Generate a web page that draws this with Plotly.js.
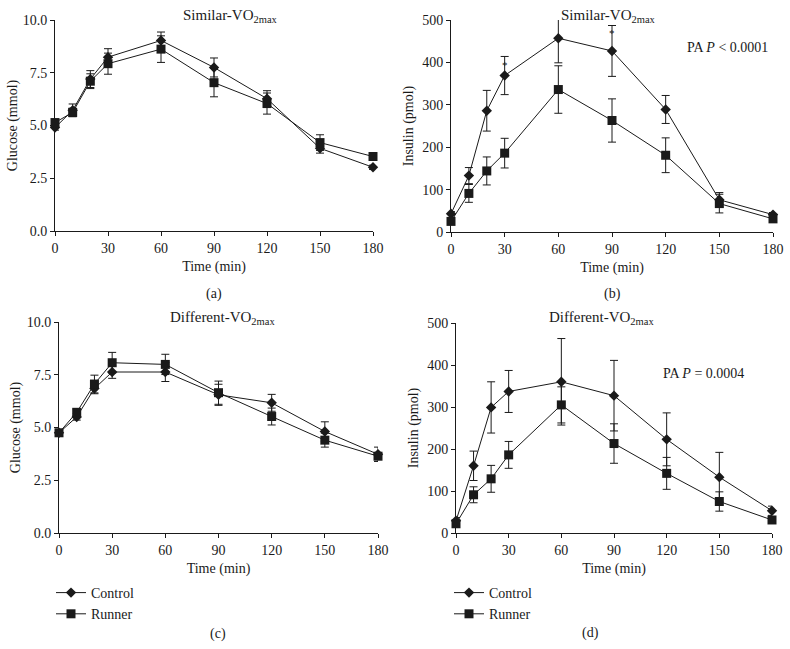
<!DOCTYPE html>
<html>
<head>
<meta charset="utf-8">
<script src="https://cdn.plot.ly/plotly-3.0.1.min.js"></script>
<style>html,body{margin:0;padding:0;background:#fff;}#chart{width:790px;height:649px;}</style>
</head>
<body>
<div id="chart"></div>
<script>
// ---- Data ----
const timeMin = [0, 10, 20, 30, 60, 90, 120, 150, 180];

// (a) Glucose, Similar-VO2max
const glucSimControl    = [4.9, 5.72, 7.2, 8.24, 9.03, 7.75, 6.27, 3.92, 3.02];
const glucSimControlErr = [0.12, 0.3, 0.4, 0.4, 0.4, 0.45, 0.38, 0.23, 0.1];
const glucSimRunner     = [5.14, 5.62, 7.1, 7.93, 8.62, 7.03, 6.04, 4.19, 3.53];
const glucSimRunnerErr  = [0.1, 0.2, 0.35, 0.5, 0.63, 0.67, 0.5, 0.37, 0.08];

// (b) Insulin, Similar-VO2max
const insSimControl    = [43, 133, 286, 369, 457, 427, 289, 76, 41];
const insSimControlErr = [5, 19, 48, 45, 58, 60, 33, 17, 5];
const insSimRunner     = [25, 91, 144, 186, 336, 263, 181, 67, 31];
const insSimRunnerErr  = [5, 21, 33, 35, 56, 51, 41, 22, 5];

// (c) Glucose, Different-VO2max
const glucDiffControl    = [4.75, 5.5, 6.85, 7.63, 7.63, 6.55, 6.17, 4.81, 3.73];
const glucDiffControlErr = [0.1, 0.15, 0.25, 0.3, 0.45, 0.5, 0.4, 0.46, 0.34];
const glucDiffRunner     = [4.75, 5.72, 7.06, 8.07, 7.99, 6.65, 5.52, 4.4, 3.64];
const glucDiffRunnerErr  = [0.1, 0.15, 0.42, 0.49, 0.48, 0.55, 0.4, 0.33, 0.1];

// (d) Insulin, Different-VO2max
const insDiffControl    = [29, 160, 299, 337, 360, 327, 223, 133, 53];
const insDiffControlErr = [8, 35, 61, 50, 103, 84, 63, 59, 11];
const insDiffRunner     = [22, 91, 129, 186, 305, 213, 142, 75, 31];
const insDiffRunnerErr  = [6, 19, 32, 32, 43, 47, 38, 23, 7];

const seriesNames = ["Control", "Runner"];
const xTicks = [0, 30, 60, 90, 120, 150, 180];
const glucTicks = [0, 2.5, 5, 7.5, 10];
const insTicks = [0, 100, 200, 300, 400, 500];
const panelTitles = ["Similar-VO<sub>2max</sub>", "Similar-VO<sub>2max</sub>", "Different-VO<sub>2max</sub>", "Different-VO<sub>2max</sub>"];
const panelLetters = ["(a)", "(b)", "(c)", "(d)"];
const pTexts = ["PA <i>P</i> &lt; 0.0001", "PA <i>P</i> = 0.0004"];

// ---- Layout helpers ----
const W = 790, H = 649;
const px = v => v / W;
const py = v => 1 - v / H;
const FONT = "Liberation Serif, Times New Roman, serif";
const INK = "#1a1a1a";
const FS = 14;

function series(x, y, err, name, symbol, size, xa, ya, legendId, show) {
  return {
    x: x, y: y, name: name, type: "scatter", mode: "lines+markers",
    xaxis: xa, yaxis: ya,
    line: {color: INK, width: 1},
    marker: {symbol: symbol, size: size, color: INK},
    error_y: {type: "data", array: err, visible: true, color: INK, thickness: 1, width: 4},
    cliponaxis: false,
    showlegend: show, legend: legendId
  };
}

const data = [
  series(timeMin, glucSimControl, glucSimControlErr, seriesNames[0], "diamond", 8, "x", "y", "legend", false),
  series(timeMin, glucSimRunner, glucSimRunnerErr, seriesNames[1], "square", 9, "x", "y", "legend", false),
  series(timeMin, insSimControl, insSimControlErr, seriesNames[0], "diamond", 8, "x2", "y2", "legend", false),
  series(timeMin, insSimRunner, insSimRunnerErr, seriesNames[1], "square", 9, "x2", "y2", "legend", false),
  series(timeMin, glucDiffControl, glucDiffControlErr, seriesNames[0], "diamond", 8, "x3", "y3", "legend", true),
  series(timeMin, glucDiffRunner, glucDiffRunnerErr, seriesNames[1], "square", 9, "x3", "y3", "legend", true),
  series(timeMin, insDiffControl, insDiffControlErr, seriesNames[0], "diamond", 8, "x4", "y4", "legend2", true),
  series(timeMin, insDiffRunner, insDiffRunnerErr, seriesNames[1], "square", 9, "x4", "y4", "legend2", true)
];

function xAxis(anchor, x0, x1) {
  return {
    anchor: anchor, domain: [px(x0), px(x1)], range: [0, 180],
    tickvals: xTicks, ticks: "outside", ticklen: 4, tickwidth: 1, tickcolor: INK,
    showline: true, linecolor: INK, linewidth: 1, showgrid: false, zeroline: false,
    tickfont: {family: FONT, size: FS, color: INK},
    title: {text: "Time (min)", font: {family: FONT, size: FS, color: INK}, standoff: 6},
    automargin: false, fixedrange: true
  };
}
function yAxis(anchor, y0, y1, range, ticks, fmt, titleText, standoff) {
  return {
    anchor: anchor, domain: [py(y1), py(y0)], range: range,
    tickvals: ticks, tickformat: fmt, ticks: "outside", ticklen: 4, tickwidth: 1, tickcolor: INK,
    showline: true, linecolor: INK, linewidth: 1, showgrid: false, zeroline: false,
    tickfont: {family: FONT, size: FS, color: INK},
    title: {text: titleText, font: {family: FONT, size: FS, color: INK}, standoff: standoff},
    automargin: false, fixedrange: true
  };
}
function note(text, x, y, size) {
  return {text: text, x: px(x), y: py(y), xref: "paper", yref: "paper", xanchor: "center", yanchor: "middle",
          showarrow: false, font: {family: FONT, size: size, color: INK}};
}

const layout = {
  width: W, height: H,
  margin: {l: 0, r: 0, t: 0, b: 0},
  paper_bgcolor: "#fff", plot_bgcolor: "#fff",
  font: {family: FONT, size: FS, color: INK},
  xaxis: xAxis("y", 55, 373),
  yaxis: yAxis("x", 20, 231, [0, 10], glucTicks, ".1f", "Glucose (mmol)", 1),
  xaxis2: xAxis("y2", 451, 773),
  yaxis2: yAxis("x2", 20, 232, [0, 500], insTicks, "d", "Insulin (pmol)", 5),
  xaxis3: xAxis("y3", 59, 378),
  yaxis3: yAxis("x3", 322, 533, [0, 10], glucTicks, ".1f", "Glucose (mmol)", 2),
  xaxis4: xAxis("y4", 456, 772),
  yaxis4: yAxis("x4", 323, 533, [0, 500], insTicks, "d", "Insulin (pmol)", 5),
  legend: {x: px(51), y: py(577), xanchor: "left", yanchor: "top", bgcolor: "rgba(0,0,0,0)",
           font: {family: FONT, size: FS, color: INK}, itemwidth: 30, tracegroupgap: 0},
  legend2: {x: px(449), y: py(577), xanchor: "left", yanchor: "top", bgcolor: "rgba(0,0,0,0)",
           font: {family: FONT, size: FS, color: INK}, itemwidth: 30, tracegroupgap: 0},
  annotations: [
    note(panelTitles[0], 230, 16, 15),
    note(panelTitles[1], 608, 16, 15),
    note(panelTitles[2], 222, 318, 15),
    note(panelTitles[3], 601, 318, 15),
    note(panelLetters[0], 214, 294, FS),
    note(panelLetters[1], 612, 294, FS),
    note(panelLetters[2], 218, 634, FS),
    note(panelLetters[3], 590, 633, FS),
    note(pTexts[0], 727, 47, FS),
    note(pTexts[1], 703, 373, FS),
    {text: "*", x: 30, y: 393, xref: "x2", yref: "y2", xanchor: "center", yanchor: "middle", showarrow: false, font: {family: FONT, size: 11, color: INK}},
    {text: "*", x: 90, y: 470, xref: "x2", yref: "y2", xanchor: "center", yanchor: "middle", showarrow: false, font: {family: FONT, size: 11, color: INK}}
  ]
};

Plotly.newPlot("chart", data, layout, {staticPlot: true, displayModeBar: false});
</script>
</body>
</html>
